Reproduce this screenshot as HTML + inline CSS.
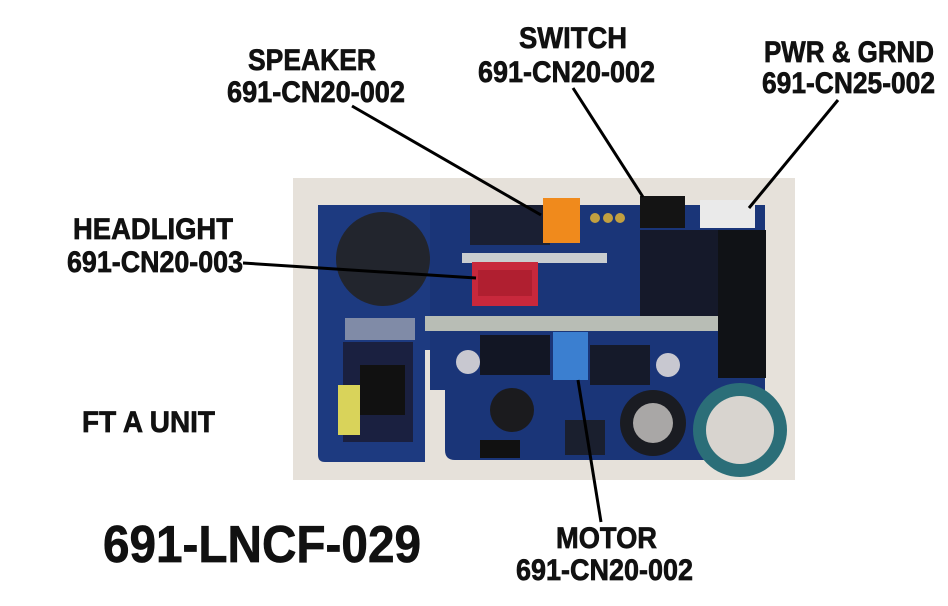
<!DOCTYPE html>
<html><head><meta charset="utf-8"><style>
html,body{margin:0;padding:0;background:#fff;}
svg{display:block}
text{font-family:"Liberation Sans",Arial,sans-serif;font-weight:bold;fill:#111;stroke:#111;stroke-width:0.7}
</style></head><body>
<svg width="948" height="606" viewBox="0 0 948 606" xmlns="http://www.w3.org/2000/svg">
<rect width="948" height="606" fill="#fff"/>
<rect x="293" y="178" width="502" height="302" fill="#e6e1da"/>
<path d="M318 205 H430 V350 H425 V462 H325 Q318 462 318 455 Z" fill="#1d3a80"/>
<path d="M430 205 H765 V460 H455 Q445 460 445 450 V390 H430 Z" fill="#1a3578"/>
<rect x="470" y="205" width="80" height="40" fill="#1a1f33"/>
<rect x="640" y="230" width="80" height="90" fill="#15192a"/>
<rect x="480" y="335" width="70" height="40" fill="#121624"/>
<rect x="590" y="345" width="60" height="40" fill="#151a2a"/>
<rect x="565" y="420" width="40" height="35" fill="#1a1f2e"/>
<rect x="480" y="440" width="40" height="18" fill="#111"/>
<circle cx="383" cy="259" r="47" fill="#22252d"/>
<rect x="343" y="342" width="70" height="100" fill="#1a2040"/>
<rect x="360" y="365" width="45" height="50" fill="#111"/>
<rect x="338" y="385" width="22" height="50" fill="#d9d35a"/>
<rect x="345" y="318" width="70" height="22" fill="#9aa0b0" opacity="0.8"/>
<rect x="462" y="253" width="145" height="10" fill="#c9cdd0"/>
<rect x="425" y="316" width="298" height="15" fill="#b8bdb5"/>
<rect x="718" y="230" width="48" height="148" fill="#101216"/>
<rect x="543" y="198" width="37" height="45" fill="#f08a1c"/>
<rect x="640" y="196" width="45" height="32" fill="#141414"/>
<rect x="700" y="200" width="55" height="28" fill="#eaeaea"/>
<rect x="472" y="262" width="66" height="44" fill="#c8283c"/>
<rect x="478" y="270" width="54" height="26" fill="#b01f30"/>
<rect x="553" y="332" width="35" height="48" fill="#3b7fd0"/>
<circle cx="595" cy="218" r="5" fill="#c2a040"/><circle cx="608" cy="218" r="5" fill="#c2a040"/><circle cx="620" cy="218" r="5" fill="#c2a040"/>
<circle cx="468" cy="362" r="12" fill="#c8c8d0"/>
<circle cx="668" cy="365" r="12" fill="#c8c8d0"/>
<circle cx="512" cy="410" r="22" fill="#1b1b1e"/>
<circle cx="653" cy="423" r="33" fill="#1a1c22"/>
<circle cx="653" cy="423" r="20" fill="#a9a7a6"/>
<circle cx="740" cy="430" r="47" fill="#2b6e78"/>
<circle cx="740" cy="430" r="34" fill="#d8d4cf"/>
<g stroke="#000" stroke-width="3" fill="none">
<line x1="352" y1="106" x2="541" y2="215"/>
<line x1="573" y1="88" x2="643" y2="197"/>
<line x1="838" y1="100" x2="749" y2="208"/>
<line x1="243" y1="263" x2="476" y2="278"/>
<line x1="578" y1="380" x2="601" y2="522"/>
</g>
<g font-size="30">
<text x="248" y="70" textLength="128" lengthAdjust="spacingAndGlyphs">SPEAKER</text>
<text x="227" y="102" textLength="178" lengthAdjust="spacingAndGlyphs">691-CN20-002</text>
<text x="519" y="48" textLength="108" lengthAdjust="spacingAndGlyphs">SWITCH</text>
<text x="478" y="82" textLength="177" lengthAdjust="spacingAndGlyphs">691-CN20-002</text>
<text x="764" y="62" textLength="170" lengthAdjust="spacingAndGlyphs">PWR &amp; GRND</text>
<text x="762" y="93" textLength="173" lengthAdjust="spacingAndGlyphs">691-CN25-002</text>
<text x="73" y="239" textLength="160" lengthAdjust="spacingAndGlyphs">HEADLIGHT</text>
<text x="67" y="272" textLength="176" lengthAdjust="spacingAndGlyphs">691-CN20-003</text>
<text x="82" y="432" textLength="133" lengthAdjust="spacingAndGlyphs">FT A UNIT</text>
<text x="556" y="548" textLength="101" lengthAdjust="spacingAndGlyphs">MOTOR</text>
<text x="516" y="580" textLength="177" lengthAdjust="spacingAndGlyphs">691-CN20-002</text>
</g>
<text x="103" y="562" font-size="52" textLength="318" lengthAdjust="spacingAndGlyphs">691-LNCF-029</text>
</svg>
</body></html>
